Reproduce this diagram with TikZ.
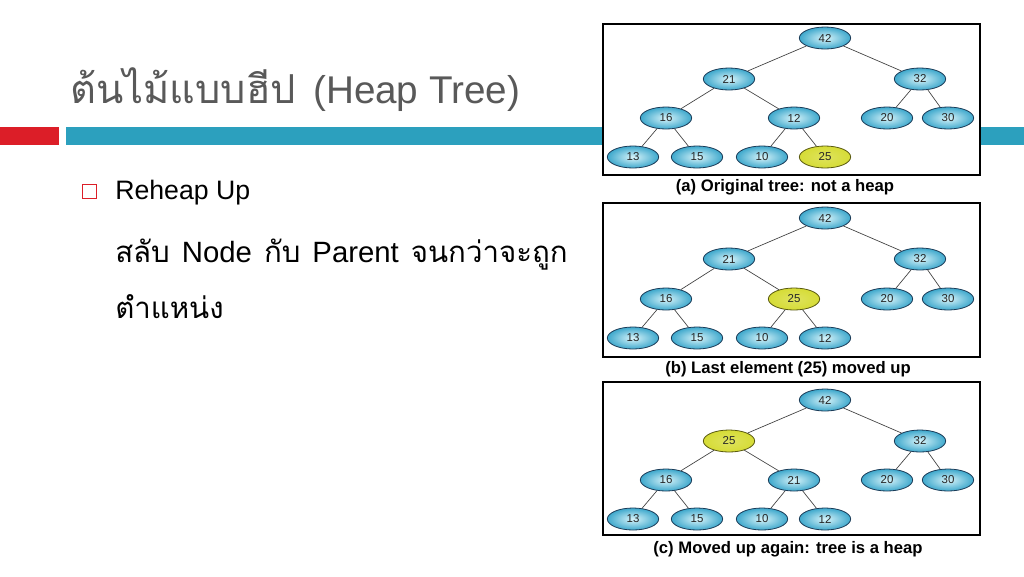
\documentclass[tikz,border=0pt]{standalone}
\usepackage{fontspec}
\setmainfont{Liberation Sans}
\newfontfamily\thaifont[Script=Thai,Scale=1.05]{Loma}
\usetikzlibrary{shapes.geometric}
\definecolor{titlegray}{HTML}{595959}
\definecolor{barred}{HTML}{DC1E28}
\definecolor{barblue}{HTML}{2CA0BE}
\definecolor{nodein}{HTML}{D8F4FA}
\definecolor{nodeout}{HTML}{3EA8CC}
\definecolor{nodeedge}{HTML}{1C3C58}
\definecolor{yelfill}{HTML}{D6DC36}
\definecolor{yeledge}{HTML}{5A5A10}
\newcommand{\wsp}{\hspace{9pt}}
\tikzset{
  hn/.style={ellipse, draw=nodeedge, line width=0.6pt, inner color=nodein, outer color=nodeout,
    minimum width=38.5pt, minimum height=16.5pt, inner sep=0pt, font=\fontsize{8.6}{10}\selectfont, text=black!85},
  hy/.style={hn, draw=yeledge, inner color=yelfill!80!white, outer color=yelfill},
  hedge/.style={draw=black!75, line width=0.5pt},
  panel/.style={draw=black, line width=0.8pt, fill=white},
  captext/.style={font=\bfseries\fontsize{12.5}{14}\selectfont, anchor=center},
  bodytext/.style={anchor=base west, inner sep=0pt, font=\fontsize{21}{24}\selectfont},
}
\begin{document}
\begin{tikzpicture}[x=0.75pt,y=-0.75pt]
\useasboundingbox (0,0) rectangle (1024,576);
\fill[white] (0,0) rectangle (1024,576);
% bars
\fill[barred] (0,127) rectangle (59,145);
\fill[barblue] (66,127) rectangle (1024,145);
% title
\node[anchor=base west, inner sep=0pt, text=titlegray, font=\fontsize{29}{32}\selectfont] (title) at (70,103) {{\fontsize{28.5}{32}\selectfont\thaifont ต้นไม้แบบฮีป}\hspace{13pt}(Heap Tree)};
% bullet
\node[draw=barred, line width=0.7pt, minimum size=10.5pt, inner sep=0pt] (box) at (89,191) {};
\node[bodytext, font=\fontsize{20}{24}\selectfont] (b1) at (115,199) {Reheap Up};
\node[bodytext] (b2) at (115,262) {{\thaifont สลับ}\wsp{\fontsize{22}{24}\selectfont Node}\wsp{\thaifont กับ}\wsp{\fontsize{22}{24}\selectfont Parent}\wsp{\thaifont จนกว่าจะถูก}};
\node[bodytext] (b3) at (115,318) {\thaifont ตำแหน่ง};
% panels
\draw[panel] (603,24) rectangle (980,175);
\draw[panel] (603,203) rectangle (980,357);
\draw[panel] (603,382) rectangle (980,535);
\node[captext] (capa) at (785,187) {(a) Original tree: not a heap};
\node[captext] (capb) at (788,369) {(b) Last element (25) moved up};
\node[captext] (capc) at (788,549) {(c) Moved up again: tree is a heap};
% ---- panel (a)
\node[hn] (a42) at (825,38) {42};
\node[hn] (a21) at (729,79) {21};
\node[hn] (a32) at (920,79) {32};
\node[hn] (a16) at (666,118) {16};
\node[hn] (a12) at (794,118) {12};
\node[hn] (a20) at (887,118) {20};
\node[hn] (a30) at (948,118) {30};
\node[hn] (a13) at (633,157) {13};
\node[hn] (a15) at (697,157) {15};
\node[hn] (a10) at (762,157) {10};
\node[hy] (a25) at (825,157) {25};
\draw[hedge] (a42)--(a21) (a42)--(a32) (a21)--(a16) (a21)--(a12) (a32)--(a20) (a32)--(a30)
  (a16)--(a13) (a16)--(a15) (a12)--(a10) (a12)--(a25);
% ---- panel (b)
\node[hn] (b42) at (825,218) {42};
\node[hn] (b21) at (729,259) {21};
\node[hn] (b32) at (920,259) {32};
\node[hn] (b16) at (666,299) {16};
\node[hy] (b25) at (794,299) {25};
\node[hn] (b20) at (887,299) {20};
\node[hn] (b30) at (948,299) {30};
\node[hn] (b13) at (633,338) {13};
\node[hn] (b15) at (697,338) {15};
\node[hn] (b10) at (762,338) {10};
\node[hn] (b12) at (825,338) {12};
\draw[hedge] (b42)--(b21) (b42)--(b32) (b21)--(b16) (b21)--(b25) (b32)--(b20) (b32)--(b30)
  (b16)--(b13) (b16)--(b15) (b25)--(b10) (b25)--(b12);
% ---- panel (c)
\node[hn] (c42) at (825,400) {42};
\node[hy] (c25) at (729,441) {25};
\node[hn] (c32) at (920,441) {32};
\node[hn] (c16) at (666,480) {16};
\node[hn] (c21) at (794,480) {21};
\node[hn] (c20) at (887,480) {20};
\node[hn] (c30) at (948,480) {30};
\node[hn] (c13) at (633,519) {13};
\node[hn] (c15) at (697,519) {15};
\node[hn] (c10) at (762,519) {10};
\node[hn] (c12) at (825,519) {12};
\draw[hedge] (c42)--(c25) (c42)--(c32) (c25)--(c16) (c25)--(c21) (c32)--(c20) (c32)--(c30)
  (c16)--(c13) (c16)--(c15) (c21)--(c10) (c21)--(c12);
\end{tikzpicture}
\end{document}
